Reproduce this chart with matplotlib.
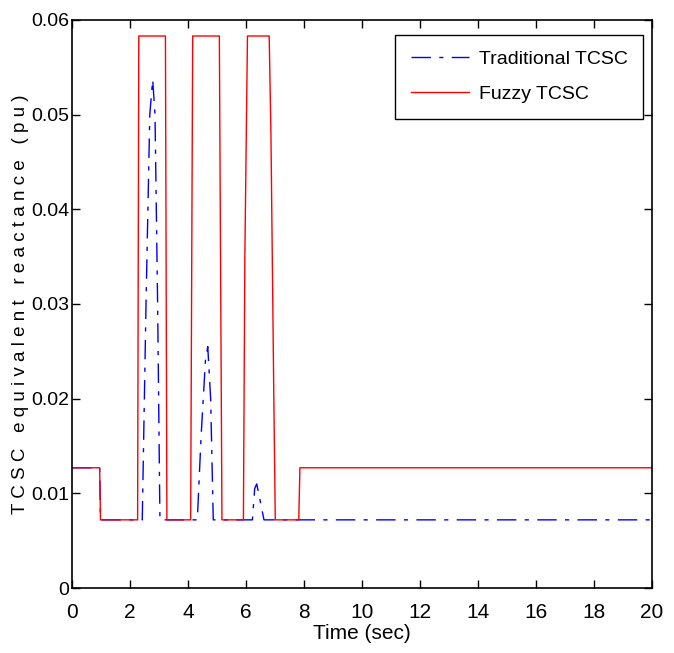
import matplotlib
matplotlib.use("Agg")
import matplotlib.pyplot as plt

# Fuzzy TCSC (red, solid) - time (s) and reactance (pu)
t_fuzzy = [0, 0.95, 0.98, 2.26, 2.30, 3.22, 3.27, 4.09, 4.16, 5.08, 5.17,
           5.91, 5.96, 6.05, 6.80, 6.86, 6.96, 7.01, 7.82, 7.86, 20]
x_fuzzy = [0.0127, 0.0127, 0.0072, 0.0072, 0.0583, 0.0583, 0.0072, 0.0072, 0.0583, 0.0583, 0.0072,
           0.0072, 0.035, 0.0583, 0.0583, 0.048, 0.020, 0.0072, 0.0072, 0.0127, 0.0127]

# Traditional TCSC (blue, dash-dot)
t_trad = [0, 0.95, 0.98, 2.42, 2.55, 2.68, 2.78, 2.86, 2.95, 3.03,
          4.32, 4.45, 4.60, 4.68, 4.78, 4.87,
          6.22, 6.30, 6.37, 6.47, 6.62, 20]
x_trad = [0.0127, 0.0127, 0.0072, 0.0072, 0.030, 0.050, 0.0537, 0.050, 0.030, 0.0072,
          0.0072, 0.016, 0.024, 0.0255, 0.020, 0.0072,
          0.0072, 0.0105, 0.011, 0.0095, 0.0072, 0.0072]

xticks = [0, 2, 4, 6, 8, 10, 12, 14, 16, 18, 20]
yticks = [0, 0.01, 0.02, 0.03, 0.04, 0.05, 0.06]
ytick_labels = ["0", "0.01", "0.02", "0.03", "0.04", "0.05", "0.06"]

plt.rcParams["font.family"] = ["Liberation Sans", "DejaVu Sans"]

fig = plt.figure(figsize=(6.74, 6.53), dpi=100)
ax = fig.add_axes([0.107, 0.0995, 0.86, 0.87])

ax.plot(t_trad, x_trad, color="blue", lw=1.0, dashes=(14, 6, 3, 6), label="Traditional TCSC")
ax.plot(t_fuzzy, x_fuzzy, color="red", lw=1.0, label="Fuzzy TCSC")

ax.set_xlim(0, 20)
ax.set_ylim(0, 0.06)
ax.set_xticks(xticks)
ax.set_yticks(yticks)
ax.set_yticklabels(ytick_labels)
ax.tick_params(direction="in", top=True, right=True, length=6, width=1)
ax.tick_params(axis="x", pad=11, labelsize=15)
ax.tick_params(axis="y", pad=2, labelsize=14)
for s in ax.spines.values():
    s.set_linewidth(1.2)

ax.set_xlabel("Time (sec)", fontsize=15, labelpad=1)
ax.set_ylabel(" ".join("TCSC equivalent reactance (pu)"), fontsize=13.5)
ax.yaxis.set_label_coords(-0.075, 0.5)

leg = ax.legend(loc="upper right", bbox_to_anchor=(0.985, 0.974), borderaxespad=0,
                fontsize=14, fancybox=False, framealpha=1, edgecolor="black",
                handlelength=3.0, labelspacing=0.9, borderpad=0.8, handletextpad=0.5)
leg.get_frame().set_linewidth(1.0)

fig.savefig("out.png", dpi=100)
